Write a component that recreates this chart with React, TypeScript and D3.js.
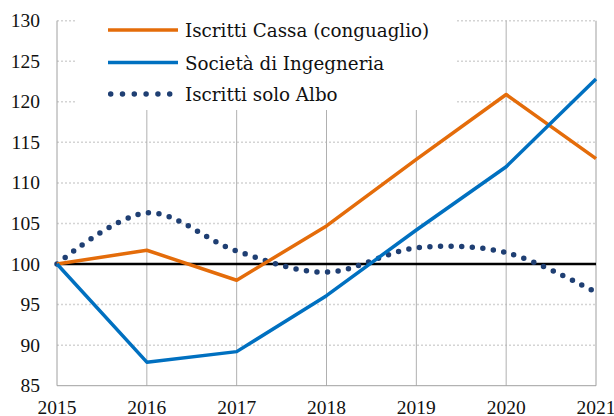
import React from "react";
import * as d3 from "d3";

const years = [2015, 2016, 2017, 2018, 2019, 2020, 2021];
const yTicks = [85, 90, 95, 100, 105, 110, 115, 120, 125, 130];
const cassa = [100, 101.7, 98.0, 104.7, 112.9, 120.9, 113.0];
const societa = [100, 87.9, 89.2, 96.1, 104.2, 112.0, 122.8];
const albo = [100, 106.3, 101.6, 99.0, 102.0, 101.4, 96.5];
const seriesNames = ["Iscritti Cassa (conguaglio)", "Società di Ingegneria", "Iscritti solo Albo"];

const W = 614, H = 416;
const left = 57, right = 596, top = 20.7, bottom = 385.7;
const serif = "Liberation Serif, Times New Roman, serif";
const legendFont = "DejaVu Serif, serif";

export default function App() {
  const x = d3.scaleLinear().domain([2015, 2021]).range([left, right]);
  const y = d3.scaleLinear().domain([85, 130]).range([bottom, top]);
  const line = d3.line<number>().x((_, i) => x(years[i])).y((d) => y(d));
  const smooth = d3.line<number>().x((_, i) => x(years[i])).y((d) => y(d)).curve(d3.curveCatmullRom.alpha(0.5));

  return (
    <svg width={W} height={H} style={{ position: "absolute", left: 0, top: 0, background: "#fff" }}>
      <rect width={W} height={H} fill="#fff" />
      {/* partially visible title */}
      <text x={255} y={3} textAnchor="end" style={{ fontFamily: "Liberation Sans, Arial, sans-serif", fontSize: 20 }} fill="#222">Confronto Regioni</text>
      <text x={272} y={3} style={{ fontFamily: "Liberation Sans, Arial, sans-serif", fontSize: 20 }} fill="#222">(valori 2015=100)</text>
      {/* horizontal grid */}
      {yTicks.filter((t) => t !== 85 && t !== 100).map((t) => (
        <line key={t} x1={left} x2={right} y1={y(t)} y2={y(t)} stroke="#d4d4d4" strokeWidth={1.5} strokeDasharray="2 2" />
      ))}
      {/* vertical grid */}
      {years.slice(1, 6).map((yr) => (
        <line key={yr} x1={x(yr)} x2={x(yr)} y1={top} y2={bottom} stroke="#b0b0b0" strokeWidth={1} />
      ))}
      <line x1={x(2021)} x2={x(2021)} y1={top} y2={bottom} stroke="#cfcfcf" strokeWidth={2} />
      <line x1={left} x2={left} y1={top} y2={bottom} stroke="#a0a0a0" strokeWidth={1} />
      <line x1={left} x2={right} y1={bottom} y2={bottom} stroke="#a0a0a0" strokeWidth={1} />
      {/* legend box */}
      <rect x={75} y={0} width={382} height={110} fill="#fff" />
      {/* baseline 100 */}
      <line x1={left} x2={right} y1={y(100)} y2={y(100)} stroke="#000" strokeWidth={2.5} />
      {/* series */}
      <path d={smooth(albo) || ""} fill="none" stroke="#1F3F73" strokeWidth={5.5} strokeLinecap="round" strokeDasharray="0 10.6" />
      <path d={line(cassa) || ""} fill="none" stroke="#E46C0A" strokeWidth={3.5} strokeLinejoin="round" />
      <path d={line(societa) || ""} fill="none" stroke="#0070C0" strokeWidth={3.5} strokeLinejoin="round" />
      {/* y labels */}
      {yTicks.map((t) => (
        <text key={t} x={40} y={y(t) + 6.5} textAnchor="end" style={{ fontFamily: serif, fontSize: 19.5 }} fill="#111">{t}</text>
      ))}
      {/* x labels */}
      {years.map((yr) => (
        <text key={yr} x={x(yr)} y={414} textAnchor="middle" style={{ fontFamily: serif, fontSize: 19.5 }} fill="#111">{yr}</text>
      ))}
      {/* legend */}
      <line x1={108} x2={178} y1={30} y2={30} stroke="#E46C0A" strokeWidth={3.5} />
      <line x1={108} x2={178} y1={62.5} y2={62.5} stroke="#0070C0" strokeWidth={3.5} />
      <line x1={110.7} x2={172} y1={94} y2={94} stroke="#1F3F73" strokeWidth={5.5} strokeLinecap="round" strokeDasharray="0 11.8" />
      {seriesNames.map((n, i) => (
        <text key={n} x={185} y={[30, 62.5, 94][i] + 7} style={{ fontFamily: legendFont, fontSize: 18.3 }} fill="#111">{n}</text>
      ))}
    </svg>
  );
}
